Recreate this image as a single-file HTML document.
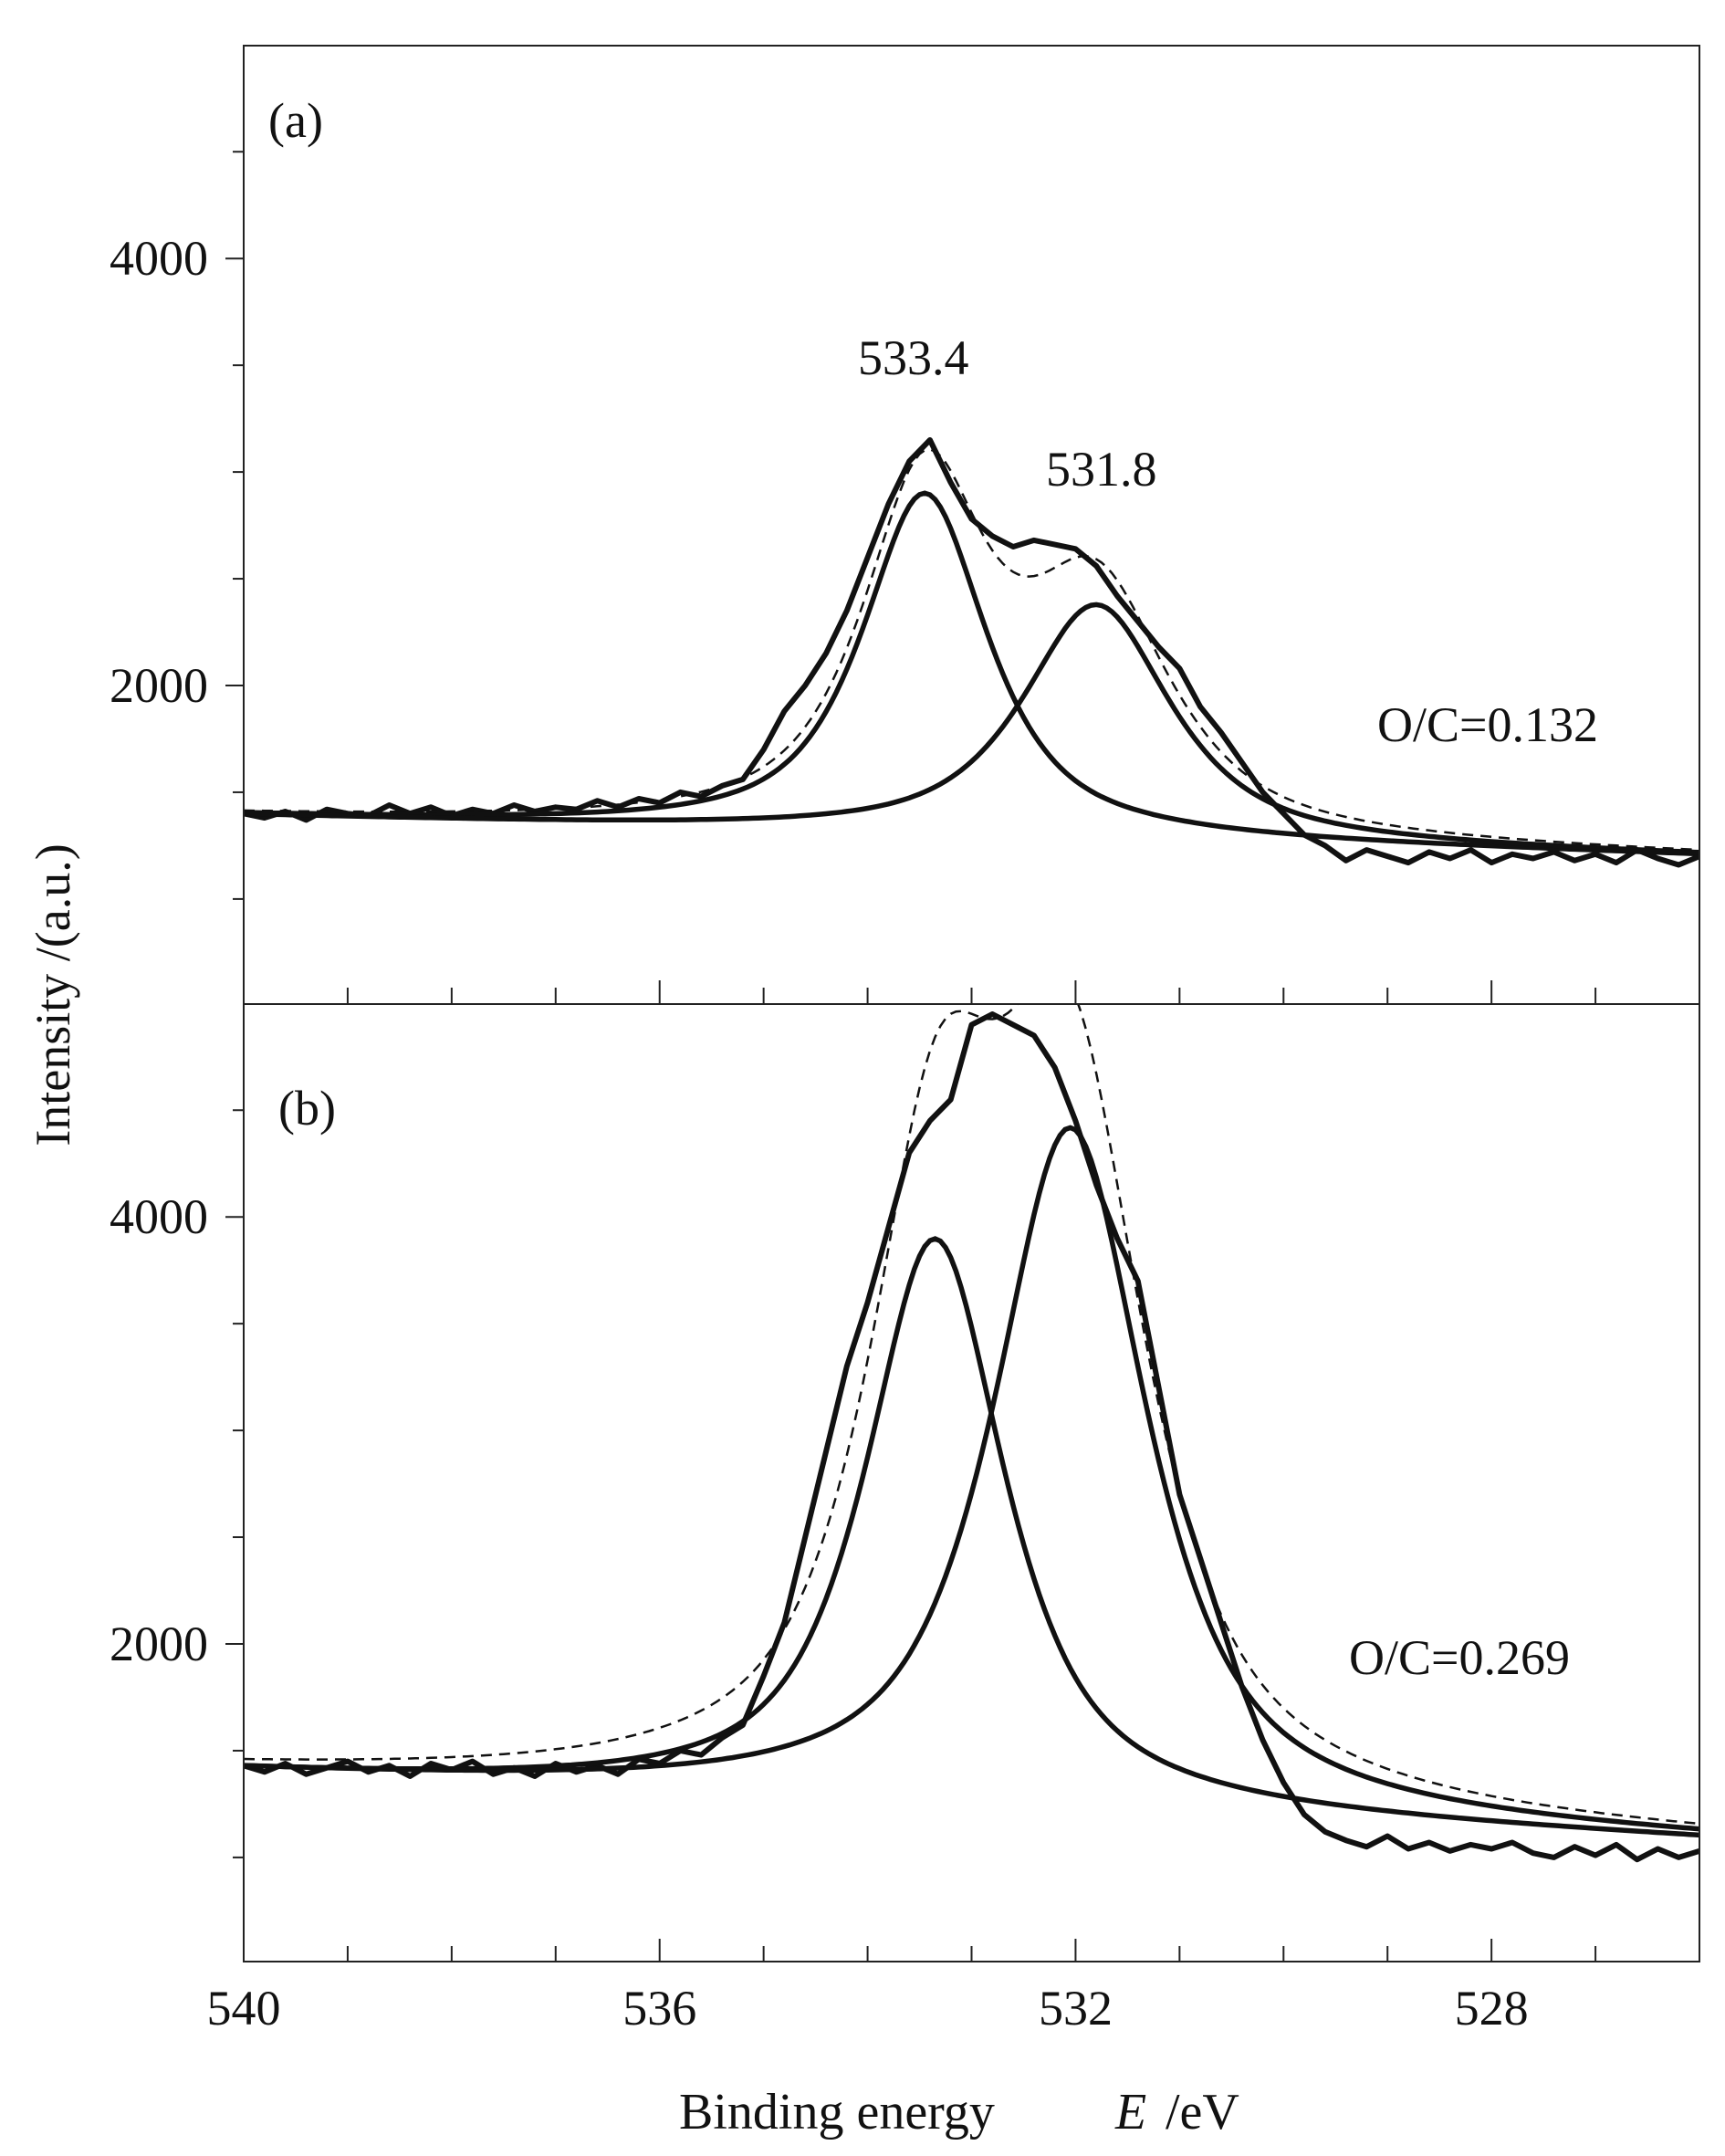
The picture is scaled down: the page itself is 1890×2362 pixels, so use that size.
<!DOCTYPE html>
<html><head><meta charset="utf-8"><style>
html,body{margin:0;padding:0;background:#fff}
svg{display:block}
text{font-family:"Liberation Serif",serif;fill:#111}
</style></head><body>
<svg id="chart" width="1890" height="2362" viewBox="0 0 1890 2362" xmlns="http://www.w3.org/2000/svg">
<defs>
<clipPath id="clip-a"><rect x="267" y="50" width="1595" height="1050"/></clipPath>
<clipPath id="clip-b"><rect x="267" y="1100" width="1595" height="1049"/></clipPath>
</defs>
<g id="layer"></g>
<rect x="267" y="50" width="1595" height="2099" fill="none" stroke="#222" stroke-width="2"/>
<line x1="267" y1="1100" x2="1862" y2="1100" stroke="#222" stroke-width="2"/>
<text x="294" y="150" font-size="54">(a)</text>
<text x="305" y="1232" font-size="54">(b)</text>
<text x="940" y="410" font-size="54">533.4</text>
<text x="1146" y="532" font-size="54">531.8</text>
<text x="1509" y="812" font-size="54">O/C=0.132</text>
<text x="1478" y="1834" font-size="54">O/C=0.269</text>
<text x="744" y="2332" font-size="56">Binding energy</text>
<text x="1222" y="2332" font-size="56" font-style="italic">E</text>
<text x="1277" y="2332" font-size="56">/eV</text>
<text transform="translate(76,1090) rotate(-90)" text-anchor="middle" font-size="54">Intensity /(a.u.)</text>
</svg>
<script>
const xTicks = [540, 536, 532, 528];
const yTickLabels = [2000, 4000];
const expA = [1400,1380,1410,1370,1420,1400,1390,1440,1400,1430,1390,1420,1400,1440,1410,1430,1420,1460,1430,1470,1450,
1500,1480,1530,1560,1700,1880,2000,2150,2350,2600,2850,3050,3150,2950,2780,2700,2650,2680,2660,2640,2560,2420,2300,2180,2080,1900,1780,1640,1500,1400,
1300,1250,1180,1230,1200,1170,1220,1190,1230,1170,1210,1190,1220,1180,1210,1170,1230,1190,1160,1200];
const expB = [1430,1400,1440,1390,1420,1450,1400,1430,1380,1440,1410,1450,1390,1420,1380,1440,1400,1430,1390,1460,1440,
1500,1480,1560,1620,1850,2100,2500,2900,3300,3600,3950,4300,4450,4550,4900,4950,4900,4850,4700,4450,4150,3900,3700,3200,2700,2400,2100,1800,1550,1350,
1200,1120,1080,1050,1100,1040,1070,1030,1060,1040,1070,1020,1000,1050,1010,1060,990,1040,1000,1030];
const centersA = [533.45, 531.8];
const heightsA = [1600, 1100];
const widthsA = [0.72, 0.85];
const baseA = [1390, 1200];
const centersB = [533.35, 532.05];
const heightsB = [2650, 3200];
const widthsB = [0.8, 0.88];
const baseB = [1400, 1080];

const NS = "http://www.w3.org/2000/svg";
const layer = document.getElementById('layer');
const svg = document.getElementById('chart');
const X = e => 267 + (540 - e) * 113.93;
const ky = 0.2339, yTop = 4997;
const Yf = top => v => top + (yTop - v) * ky;
function mk(tag, attrs, parent) { const el = document.createElementNS(NS, tag); for (const k in attrs) el.setAttribute(k, attrs[k]); (parent || layer).appendChild(el); return el; }
function pv(e, c, h, w) { const d = (e - c) / w; return h * (0.8 / (1 + d * d) + 0.2 * Math.exp(-Math.log(2) * d * d)); }

function panel(top, exp, centers, heights, widths, base, key) {
  const Y = Yf(top);
  const bl = e => base[1] + (base[0] - base[1]) * (e - 526) / 14;
  for (let v = 1000; v <= 4500; v += 500) {
    const major = v % 2000 === 0;
    const t = mk('line', {x1: 267 - (major ? 20 : 12), x2: 267, y1: Y(v), y2: Y(v), stroke: '#222', 'stroke-width': 2});
    
    
  }
  yTickLabels.forEach(v => {
    const t = mk('text', {x: 228, y: Y(v) + 18, 'text-anchor': 'end', 'font-size': 54}, svg);
    t.textContent = v;
    
    
  });
  const bottom = top + 1050;
  for (let e = 539; e >= 527; e--) {
    const major = (540 - e) % 4 === 0;
    const t = mk('line', {x1: X(e), x2: X(e), y1: bottom, y2: bottom - (major ? 26 : 18), stroke: '#222', 'stroke-width': 2});
    
    
  }
  const g = mk('g', {'clip-path': 'url(#clip-' + key + ')'});
  
  
  let d = exp.map((v, i) => (i ? 'L' : 'M') + X(540 - 0.2 * i).toFixed(1) + ',' + Y(v).toFixed(1)).join('');
  const ex = mk('path', {d, fill: 'none', stroke: '#111', 'stroke-width': 6, 'stroke-linejoin': 'round'}, g);
  
  
  const es = []; for (let e = 540; e >= 525.99; e -= 0.05) es.push(e);
  centers.forEach((c, k) => {
    const dd = es.map((e, i) => (i ? 'L' : 'M') + X(e).toFixed(1) + ',' + Y(bl(e) + pv(e, c, heights[k], widths[k])).toFixed(1)).join('');
    const p = mk('path', {d: dd, fill: 'none', stroke: '#111', 'stroke-width': 5.5}, g);
    
    
  });
  const de = es.map((e, i) => { let v = bl(e); centers.forEach((c, k) => v += pv(e, c, heights[k], widths[k])); return (i ? 'L' : 'M') + X(e).toFixed(1) + ',' + Y(v).toFixed(1); }).join('');
  const env = mk('path', {d: de, fill: 'none', stroke: '#111', 'stroke-width': 2.5, 'stroke-dasharray': '12,8'}, g);
  
  
}
panel(50, expA, centersA, heightsA, widthsA, baseA, 'a');
panel(1100, expB, centersB, heightsB, widthsB, baseB, 'b');
xTicks.forEach(e => {
  const t = mk('text', {x: X(e), y: 2218, 'text-anchor': 'middle', 'font-size': 54}, svg);
  t.textContent = e;
  
  
});
</script>
</body></html>
